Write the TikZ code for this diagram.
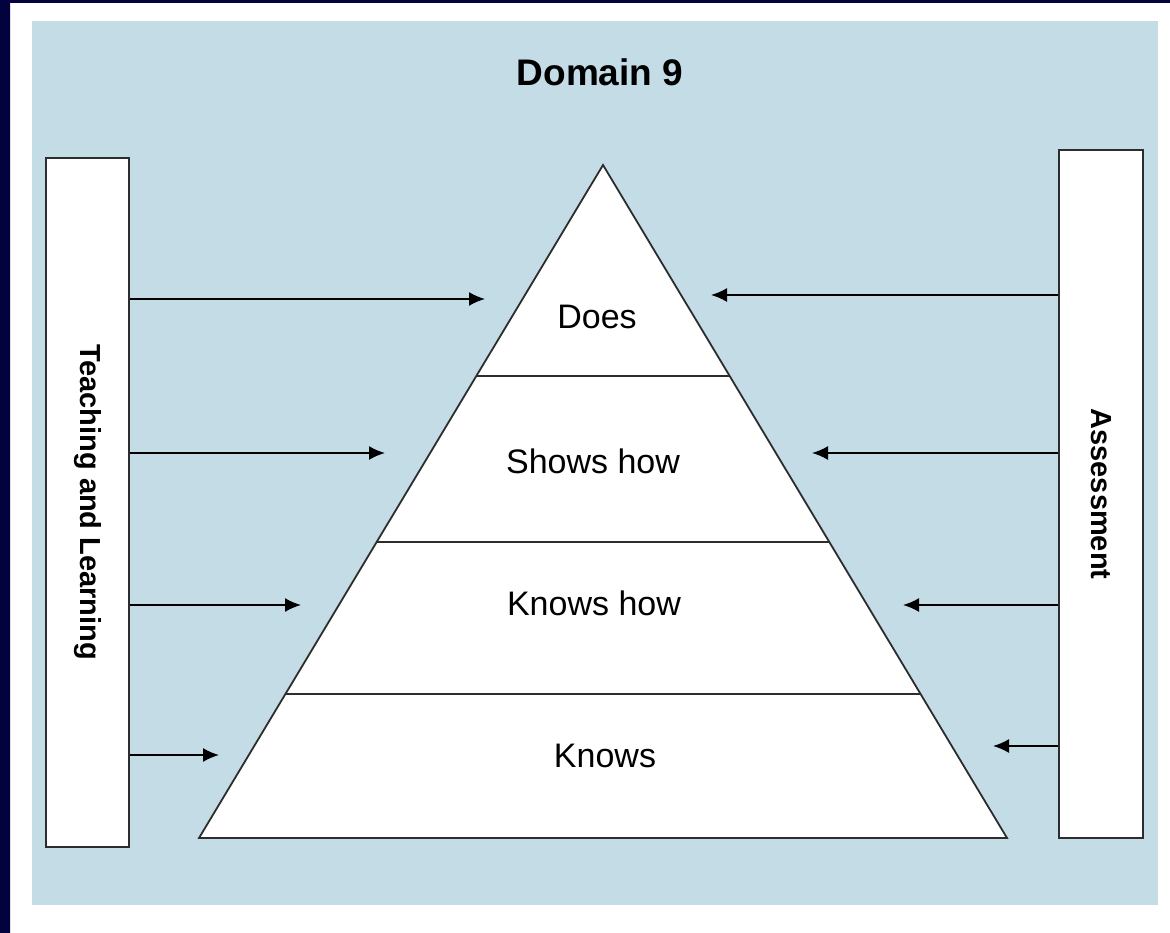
\documentclass[tikz,border=0pt]{standalone}
\usepackage{fontspec}
\setmainfont{Liberation Sans}
\usepackage{graphicx}
\usetikzlibrary{arrows.meta}
\definecolor{navy}{RGB}{2,2,62}
\definecolor{panel}{RGB}{195,220,230}
\definecolor{edge}{RGB}{45,45,45}
\begin{document}
\begin{tikzpicture}[x=1pt,y=-1pt,>={Latex[length=16pt,width=14pt]},
	bar/.style={draw=edge,line width=1.8pt,fill=white,inner sep=0pt,minimum width=83pt,minimum height=689pt,font=\fontsize{29}{30}\selectfont\bfseries},
	level/.style={anchor=base,font=\fontsize{34}{36}\selectfont}]
	\useasboundingbox (0,0) rectangle (1170,933);
	\fill[white] (0,0) rectangle (1170,933);
	\fill[navy] (0,0) rectangle (10,933) (0,0) rectangle (1170,3);
	\fill[panel] (32,21) rectangle (1158,905);
	\node[anchor=base,font=\fontsize{37}{40}\selectfont\bfseries] (title) at (600,86) {Domain 9};
	\node[bar] (tl) at (87.5,502.5) {\rotatebox{-90}{Teaching and Learning}};
	\node[bar,minimum width=84pt,minimum height=688pt] (as) at (1101,494) {\rotatebox{-90}{Assessment}};
	% pyramid
	\coordinate (top) at (603,165);
	\coordinate (bl) at (199,838);
	\coordinate (br) at (1007,838);
	\fill[white] (top) -- (bl) -- (br) -- cycle;
	\begin{scope}
		\clip (top) -- (bl) -- (br) -- cycle;
		\foreach \y in {376,542,694}{\draw[edge,line width=1.8pt] (199,\y) -- (1007,\y);}
	\end{scope}
	\draw[edge,line width=1.8pt,line join=miter] (top) -- (bl) -- (br) -- cycle;
	\node[level] (does) at (597,328) {Does};
	\node[level] (shows) at (593,473) {Shows how};
	\node[level] (knowshow) at (594,615) {Knows how};
	\node[level] (knows) at (605,767) {Knows};
	% arrows
	\foreach \n/\xe/\y in {1/485/299,2/385/453,3/301/605,4/219/755}{
		\coordinate (tlp\n) at (\xe,\y);
		\draw[->,line width=1.8pt] (tlp\n -| tl.east) -- (tlp\n);}
	\foreach \n/\xe/\y in {1/711/295,2/812/453,3/903/605,4/993/746}{
		\coordinate (asp\n) at (\xe,\y);
		\draw[->,line width=1.8pt] (asp\n -| as.west) -- (asp\n);}
\end{tikzpicture}
\end{document}
